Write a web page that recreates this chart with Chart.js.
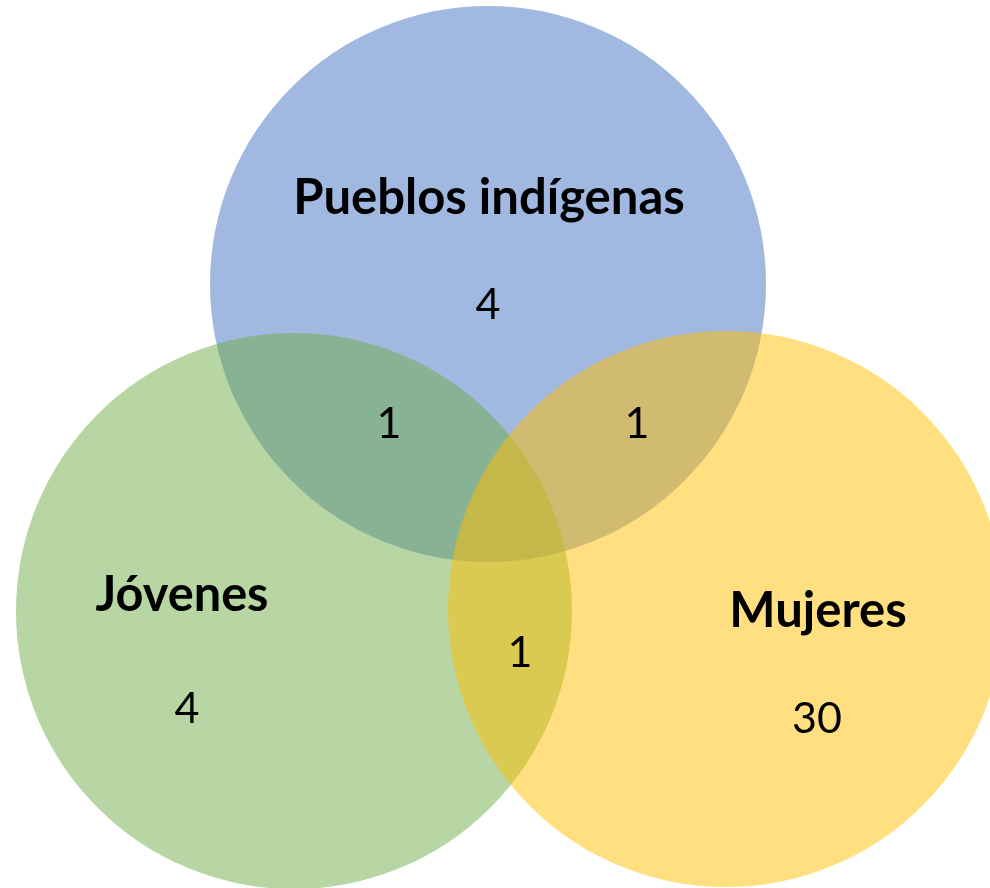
<!DOCTYPE html>
<html>
<head>
<meta charset="utf-8">
<script src="https://cdn.jsdelivr.net/npm/chart.js@4.4.1/dist/chart.umd.min.js"></script>
<style>
  html, body { margin: 0; padding: 0; background: #fff; }
  #wrap { width: 990px; height: 888px; position: relative; }
</style>
</head>
<body>
<div id="wrap"><canvas id="venn"></canvas></div>
<script>
// conjuntos y conteos
const conjuntos = ['Pueblos indígenas', 'Jóvenes', 'Mujeres'];
const soloConteo = [4, 4, 30];
const pares = ['Pueblos indígenas y Jóvenes', 'Pueblos indígenas y Mujeres', 'Jóvenes y Mujeres'];
const paresConteo = [1, 1, 1];

// posición de los círculos (unidades del eje = píxeles)
const centrosX = [488, 294, 726];
const centrosY = [284, 611, 609];
const radio = 278;
const colores = ['rgba(68,114,196,0.5)', 'rgba(112,173,71,0.5)', 'rgba(255,192,0,0.5)'];

// posición de los textos
const tituloX = [489, 182, 818];
const tituloY = [214, 611, 627];
const tituloAncho = [398, 173, 179];
const soloX = [488, 187, 817];
const soloY = [319, 723, 733];
const paresX = [389, 637, 520];
const paresY = [438, 438, 667];

const textos = {
    id: 'textos',
    afterDatasetsDraw(chart) {
        const ctx = chart.ctx;
        const x = chart.scales.x, y = chart.scales.y;
        ctx.save();
        ctx.fillStyle = '#000';
        ctx.textAlign = 'center';
        ctx.textBaseline = 'alphabetic';
        ctx.font = 'bold 49px Lato';
        conjuntos.forEach((c, i) => {
            ctx.fillText(c, x.getPixelForValue(tituloX[i]), y.getPixelForValue(tituloY[i]), tituloAncho[i]);
        });
        ctx.font = '43px Lato';
        soloConteo.forEach((v, i) => {
            ctx.fillText(String(v), x.getPixelForValue(soloX[i]), y.getPixelForValue(soloY[i]));
        });
        paresConteo.forEach((v, i) => {
            ctx.fillText(String(v), x.getPixelForValue(paresX[i]), y.getPixelForValue(paresY[i]));
        });
        ctx.restore();
    }
};

new Chart(document.getElementById('venn'), {
    type: 'bubble',
    data: {
        datasets: conjuntos.map((c, i) => ({
            label: c,
            data: [{ x: centrosX[i], y: centrosY[i], r: radio }],
            backgroundColor: colores[i],
            borderWidth: 0,
            hoverRadius: 0,
            clip: false,
            order: conjuntos.length - i   // azul abajo, amarillo arriba
        }))
    },
    options: {
        responsive: true,
        maintainAspectRatio: false,
        animation: false,
        events: [],
        layout: { padding: 0, autoPadding: false },
        scales: {
            x: { type: 'linear', min: 0, max: 990, display: false },
            y: { type: 'linear', min: 0, max: 888, reverse: true, display: false }
        },
        plugins: {
            legend: { display: false },
            tooltip: { enabled: false }
        }
    },
    plugins: [textos]
});
</script>
</body>
</html>
